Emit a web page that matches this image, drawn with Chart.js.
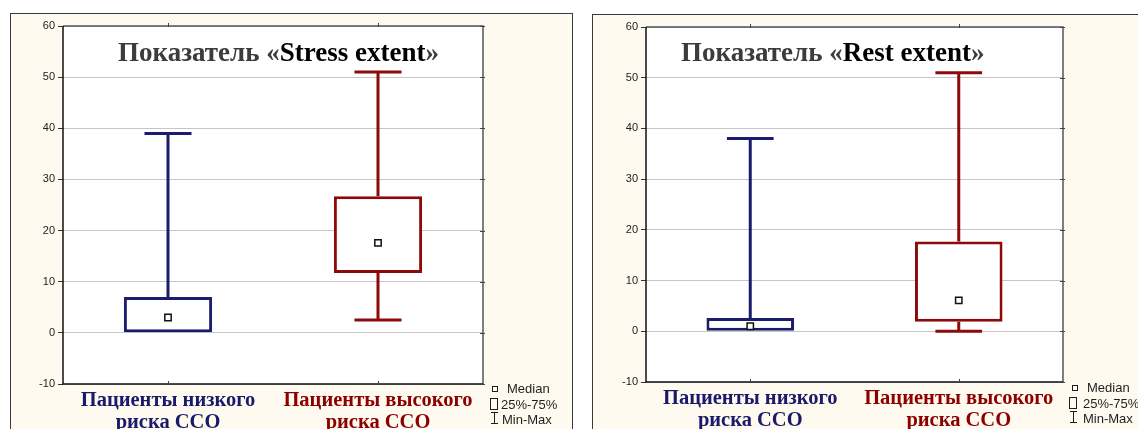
<!DOCTYPE html>
<html>
<head>
<meta charset="utf-8">
<script src="https://cdn.jsdelivr.net/npm/chart.js@4.4.1/dist/chart.umd.min.js"></script>
<style>
  html, body { margin: 0; padding: 0; background: #fff; width: 1138px; height: 429px; overflow: hidden; position: relative; }
  .panel { position: absolute; background: #fffaf0; border: 1px solid #3a3a3a; box-sizing: border-box; }
  #panel1 { left: 10px; top: 13px; width: 563px; height: 440px; }
  #panel2 { left: 592px; top: 14px; width: 560px; height: 440px; }
  canvas { position: absolute; }
  #c1 { left: 10px; top: 13px; }
  #c2 { left: 592px; top: 14px; }
  .title { position: absolute; font: bold 27px/27px "Liberation Serif", "Times New Roman", serif; color: #3c3c3c; white-space: nowrap; }
  .title b { color: #000; }
  .lg { position: absolute; font: 13px/15px "Liberation Sans", Arial, sans-serif; color: #1e1e1e; white-space: nowrap; }
  .mk { position: absolute; box-sizing: border-box; border: 1.5px solid #1e1e1e; background: #fff; }
  .ln { position: absolute; background: #1e1e1e; }
</style>
</head>
<body>
<div class="panel" id="panel1"></div>
<div class="panel" id="panel2"></div>
<canvas id="c1" width="563" height="416"></canvas>
<canvas id="c2" width="546" height="415"></canvas>

<div class="title" style="left:118px; top:39px;">Показатель «<b>Stress extent</b>»</div>
<div class="title" style="left:681px; top:39px;">Показатель «<b>Rest extent</b>»</div>

<!-- legend, left panel -->
<div class="mk" style="left:492px; top:386px; width:6px; height:6px;"></div>
<div class="lg" style="left:507px; top:381px;">Median</div>
<div class="mk" style="left:490px; top:398px; width:8px; height:12px; background:none; border-width:1px;"></div>
<div class="lg" style="left:501px; top:397px;">25%-75%</div>
<div class="ln" style="left:491px; top:412px; width:7px; height:1px;"></div>
<div class="ln" style="left:494px; top:412px; width:1px; height:12px;"></div>
<div class="ln" style="left:491px; top:423px; width:7px; height:1px;"></div>
<div class="lg" style="left:502px; top:412px;">Min-Max</div>

<!-- legend, right panel -->
<div class="mk" style="left:1072px; top:385px; width:6px; height:6px;"></div>
<div class="lg" style="left:1087px; top:380px;">Median</div>
<div class="mk" style="left:1069px; top:397px; width:8px; height:12px; background:none; border-width:1px;"></div>
<div class="lg" style="left:1083px; top:396px;">25%-75%</div>
<div class="ln" style="left:1070px; top:411px; width:7px; height:1px;"></div>
<div class="ln" style="left:1073px; top:411px; width:1px; height:12px;"></div>
<div class="ln" style="left:1070px; top:422px; width:7px; height:1px;"></div>
<div class="lg" style="left:1083px; top:411px;">Min-Max</div>

<script>
// Groups on the x axis
const categories = [["Пациенты низкого", "риска ССО"], ["Пациенты высокого", "риска ССО"]];
const groupColors = ["#1c1c6e", "#8c0a0a"];
const labelColors = ["#1a1a6a", "#8b0000"];
const yMin = -10, yMax = 60, yStep = 10;

// Stress extent: min, quartiles, median, max
const stressMin    = [0, 2.5];
const stressQ1     = [0, 11.7];
const stressMedian = [3, 17.6];
const stressQ3     = [7, 26.7];
const stressMax    = [39, 51];

// Rest extent: min, quartiles, median, max
const restMin    = [0, 0];
const restQ1     = [0, 1.9];
const restMedian = [1, 6.1];
const restQ3     = [2.6, 17.7];
const restMax    = [38, 51];

// Whiskers with caps, plot background and frame
function boxFrame(stats) {
  return {
    id: 'boxFrame',
    beforeDraw(chart) {
      const { ctx, chartArea: a } = chart;
      ctx.save();
      ctx.fillStyle = '#fff';
      ctx.fillRect(a.left, a.top, a.right - a.left, a.bottom - a.top);
      ctx.restore();
    },
    beforeDatasetsDraw(chart) {
      const { ctx, scales: { x, y } } = chart;
      const catW = x.width / categories.length;
      const half = catW * 0.112;
      ctx.save();
      ctx.lineWidth = 3;
      ctx.lineCap = 'butt';
      stats.min.forEach((mn, i) => {
        const cx = x.getPixelForValue(i);
        const yMaxPx = y.getPixelForValue(stats.max[i]);
        const yQ3 = y.getPixelForValue(stats.q3[i]);
        const yQ1 = y.getPixelForValue(stats.q1[i]);
        const yMinPx = y.getPixelForValue(mn);
        ctx.strokeStyle = groupColors[i];
        ctx.beginPath();
        ctx.moveTo(cx, yMaxPx); ctx.lineTo(cx, yQ3);
        ctx.moveTo(cx - half, yMaxPx); ctx.lineTo(cx + half, yMaxPx);
        // lower whisker only when the minimum lies below the box
        if (mn < stats.q1[i]) {
          ctx.moveTo(cx, yQ1); ctx.lineTo(cx, yMinPx);
          ctx.moveTo(cx - half, yMinPx); ctx.lineTo(cx + half, yMinPx);
        }
        ctx.stroke();
      });
      ctx.restore();
    },
    afterDraw(chart) {
      const { ctx, chartArea: a, scales: { x, y } } = chart;
      ctx.save();
      ctx.lineWidth = 1.5;
      ctx.strokeStyle = '#555';
      ctx.beginPath();
      ctx.moveTo(a.left, a.top); ctx.lineTo(a.right, a.top); ctx.lineTo(a.right, a.bottom);
      ctx.stroke();
      ctx.strokeStyle = '#111';
      ctx.beginPath();
      ctx.moveTo(a.left, a.top); ctx.lineTo(a.left, a.bottom); ctx.lineTo(a.right, a.bottom);
      ctx.stroke();
      // small ticks on the right edge and at group centres
      ctx.lineWidth = 1;
      ctx.strokeStyle = '#444';
      ctx.beginPath();
      y.ticks.forEach(t => {
        const py = Math.round(y.getPixelForValue(t.value)) + 0.5;
        ctx.moveTo(a.right - 3, py); ctx.lineTo(a.right + 2, py);
      });
      categories.forEach((c, i) => {
        const px = Math.round(x.getPixelForValue(i)) + 0.5;
        ctx.moveTo(px, a.top - 3); ctx.lineTo(px, a.top + 1);
        ctx.moveTo(px, a.bottom - 3); ctx.lineTo(px, a.bottom);
      });
      ctx.stroke();
      ctx.restore();
    }
  };
}

function makeChart(id, stats, layout) {
  return new Chart(document.getElementById(id), {
    type: 'bar',
    data: {
      labels: categories,
      datasets: [
        {
          type: 'line',
          data: stats.median,
          showLine: false,
          pointStyle: 'rect',
          pointRadius: 4.5,
          pointBorderWidth: 1.5,
          pointBorderColor: '#111',
          pointBackgroundColor: '#fff',
          order: 1
        },
        {
          data: stats.q1.map((v, i) => [v, stats.q3[i]]),
          backgroundColor: '#fff',
          borderColor: groupColors,
          borderWidth: 3,
          borderSkipped: false,
          barPercentage: 0.42,
          categoryPercentage: 1,
          order: 2
        }
      ]
    },
    options: {
      responsive: false,
      animation: false,
      events: [],
      layout: { padding: { left: 0, top: 13, right: layout.padRight, bottom: 0 } },
      plugins: { legend: { display: false }, tooltip: { enabled: false } },
      scales: {
        x: {
          offset: true,
          grid: { display: false, drawTicks: false },
          border: { display: false },
          ticks: {
            autoSkip: false,
            maxRotation: 0,
            padding: 6,
            color: ctx => labelColors[ctx.index],
            font: { family: '"Liberation Serif", "Times New Roman", serif', size: 20.5, weight: 'bold', lineHeight: 1.07 }
          },
          afterFit(s) { s.height = layout.xHeight; }
        },
        y: {
          min: yMin,
          max: yMax,
          ticks: {
            stepSize: yStep,
            padding: 3,
            color: '#222',
            font: { family: '"Liberation Sans", Arial, sans-serif', size: 11 }
          },
          grid: { color: '#c6c6c6', lineWidth: 1, tickLength: 5, tickColor: '#333', drawTicks: true },
          border: { display: false },
          afterFit(s) { s.width = layout.yWidth; }
        }
      }
    },
    plugins: [boxFrame(stats)]
  });
}

makeChart('c1',
  { min: stressMin, q1: stressQ1, median: stressMedian, q3: stressQ3, max: stressMax },
  { padRight: 90, xHeight: 45, yWidth: 53 });

makeChart('c2',
  { min: restMin, q1: restQ1, median: restMedian, q3: restQ3, max: restMax },
  { padRight: 75, xHeight: 47, yWidth: 54 });
</script>
</body>
</html>
